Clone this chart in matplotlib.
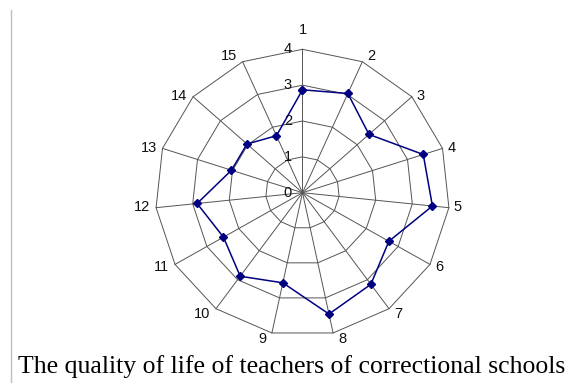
"""Radar chart: quality of life of teachers of correctional schools."""

import matplotlib

matplotlib.use("Agg")
import matplotlib.pyplot as plt
import numpy as np
from matplotlib.lines import Line2D

categories = [str(i) for i in range(1, 16)]
values = [2.87, 3.03, 2.43, 3.45, 3.55, 2.71, 3.16, 3.46,
          2.57, 2.88, 2.48, 2.88, 2.03, 2.03, 1.74]
rings = [0, 1, 2, 3, 4]

GRID = "#555555"
LINE = "#000080"

n = len(categories)
theta = 2 * np.pi * np.arange(n) / n  # clockwise from the top
sx, sy = np.sin(theta), np.cos(theta)

fig = plt.figure(figsize=(5.8, 3.83), dpi=100)
ax = fig.add_axes([0.2043, 0.02885, 0.6345, 0.936])
ax.set_xlim(-5, 5)
ax.set_ylim(-5, 5)
ax.axis("off")

rmax = rings[-1]
# polygon rings
for r in rings[1:]:
    ax.plot(np.append(sx, sx[0]) * r, np.append(sy, sy[0]) * r,
            color=GRID, lw=0.7, zorder=1)
# spokes
for x, y in zip(sx, sy):
    ax.plot([0, x * rmax], [0, y * rmax], color=GRID, lw=0.7, zorder=1)

# ring labels, left of the vertical spoke
for r in rings:
    ax.annotate(str(r), (0, r), xytext=(-7.5, 0), textcoords="offset points",
                ha="right", va="center", fontsize=10.5,
                family="Liberation Sans", color="#111111")

# category labels beyond each vertex
for lab, x, y in zip(categories, sx, sy):
    if x > 0.05:
        ha, dx = "left", 3.5
    elif x < -0.05:
        ha, dx = "right", -4
    else:
        ha, dx = "center", 0
    if y > 0.85:
        va, dy = "bottom", -1
    elif y < -0.6:
        va, dy = "top", 1
    elif y < -0.3:
        va, dy = "center", -2
    else:
        va, dy = "center", 0.5
    if ha == "center":
        dy = 9
    ax.annotate(lab, (x * rmax, y * rmax), xytext=(dx, dy),
                textcoords="offset points", ha=ha, va=va, fontsize=10.5,
                family="Liberation Sans", color="#111111")

v = np.asarray(values)
ax.plot(np.append(v * sx, v[0] * sx[0]), np.append(v * sy, v[0] * sy[0]),
        color=LINE, lw=1.1, marker="D", markersize=4.5, zorder=3)

fig.add_artist(Line2D([10.5 / 580, 10.5 / 580], [0, 1 - 10 / 383],
                      color="#c0c0c0", lw=1))
fig.text(292 / 580, 10 / 383,
         "The quality of life of teachers of correctional schools",
         ha="center", va="baseline", fontsize=18.5, family="Liberation Serif")

fig.savefig("out.png", dpi=100)
